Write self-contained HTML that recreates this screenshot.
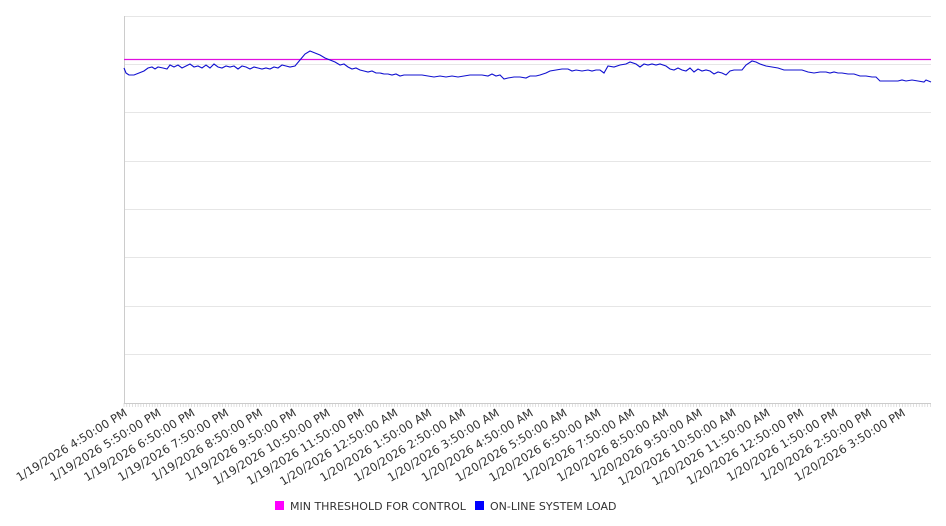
<!DOCTYPE html>
<html><head><meta charset="utf-8"><style>
html,body{margin:0;padding:0;background:#fff;}
svg{display:block;font-family:"DejaVu Sans","Liberation Sans",sans-serif;}
</style></head><body>
<svg width="946" height="526" viewBox="0 0 946 526">
<g stroke="#e6e6e6" stroke-width="1">
<line x1="124" y1="16.5" x2="931" y2="16.5"/>
<line x1="124" y1="64.5" x2="931" y2="64.5"/>
<line x1="124" y1="112.5" x2="931" y2="112.5"/>
<line x1="124" y1="161.5" x2="931" y2="161.5"/>
<line x1="124" y1="209.5" x2="931" y2="209.5"/>
<line x1="124" y1="257.5" x2="931" y2="257.5"/>
<line x1="124" y1="306.5" x2="931" y2="306.5"/>
<line x1="124" y1="354.5" x2="931" y2="354.5"/>
</g>
<line x1="124.5" y1="16" x2="124.5" y2="403" stroke="#ccc"/>
<line x1="124" y1="403.5" x2="931" y2="403.5" stroke="#ccc"/>
<line x1="124" y1="59.5" x2="931" y2="59.5" stroke="#e010e0" stroke-width="1.2"/>
<polyline fill="none" stroke="#1010d0" stroke-width="1.1" points="
124,68 126,73 129,75 134,75 139,73 144,71 148,68 152,67 155,69 158,67 163,68 167,69 170,65 174,67 178,65 182,68 186,66 190,64 194,67 198,66 202,68 206,65 210,68 214,64 218,67 222,68 226,66 230,67 234,66 238,69 242,66 246,67 250,69 254,67 258,68 262,69 266,68 270,69 274,67 278,68 282,65 286,66 290,67 295,66 300,60 305,54 310,51 315,53 320,55 325,58 330,60 335,62 340,65 344,64 348,67 352,69 356,68 360,70 364,71 368,72 372,71 376,73 380,73 384,74 388,74 392,75 396,74 400,76 404,75 410,75 416,75 422,75 428,76 434,77 440,76 446,77 452,76 458,77 464,76 470,75 476,75 482,75 488,76 492,74 496,76 500,75 504,79 508,78 514,77 520,77 526,78 530,76 536,76 540,75 546,73 550,71 556,70 562,69 568,69 572,71 576,70 582,71 588,70 592,71 596,70 600,70 604,73 608,66 614,67 620,65 626,64 630,62 636,64 640,67 644,64 648,65 652,64 656,65 660,64 666,66 670,69 674,70 678,68 682,70 686,71 690,68 694,72 698,69 702,71 706,70 710,71 714,74 718,72 722,73 726,75 730,71 734,70 738,70 742,70 746,65 752,61 756,62 760,64 766,66 772,67 778,68 784,70 790,70 796,70 802,70 808,72 814,73 820,72 826,72 830,73 834,72 838,73 842,73 848,74 854,74 860,76 866,76 872,77 876,77 880,81 886,81 892,81 898,81 902,80 906,81 912,80 918,81 924,82 926,80 931,82"/>
<g font-size="11.5" fill="#333" text-anchor="end" id="lbls"></g>
<g stroke="#ccc" stroke-width="0.6" id="tk"></g>
<rect x="275" y="501" width="9" height="9" fill="#ff00ff"/>
<text x="290" y="510" font-size="11" fill="#333">MIN THRESHOLD FOR CONTROL</text>
<rect x="475" y="501" width="9" height="9" fill="#0000ff"/>
<text x="490" y="510" font-size="11" fill="#333">ON-LINE SYSTEM LOAD</text>
</svg>
<script>
var g=document.getElementById('tk'),s='';
for(var x=124;x<=931;x+=2.82){s+='<line x1="'+x.toFixed(1)+'" y1="403" x2="'+x.toFixed(1)+'" y2="407"/>';}
g.innerHTML=s;
var L=['1/19/2026 4:50:00 PM','1/19/2026 5:50:00 PM','1/19/2026 6:50:00 PM','1/19/2026 7:50:00 PM','1/19/2026 8:50:00 PM','1/19/2026 9:50:00 PM','1/19/2026 10:50:00 PM','1/19/2026 11:50:00 PM','1/20/2026 12:50:00 AM','1/20/2026 1:50:00 AM','1/20/2026 2:50:00 AM','1/20/2026 3:50:00 AM','1/20/2026 4:50:00 AM','1/20/2026 5:50:00 AM','1/20/2026 6:50:00 AM','1/20/2026 7:50:00 AM','1/20/2026 8:50:00 AM','1/20/2026 9:50:00 AM','1/20/2026 10:50:00 AM','1/20/2026 11:50:00 AM','1/20/2026 12:50:00 PM','1/20/2026 1:50:00 PM','1/20/2026 2:50:00 PM','1/20/2026 3:50:00 PM'];
var t='';
for(var i=0;i<L.length;i++){var x=128+i*33.83;t+='<text transform="translate('+x.toFixed(1)+',415) rotate(-31.5)">'+L[i]+'</text>';}
document.getElementById('lbls').innerHTML=t;
</script>
</body></html>
